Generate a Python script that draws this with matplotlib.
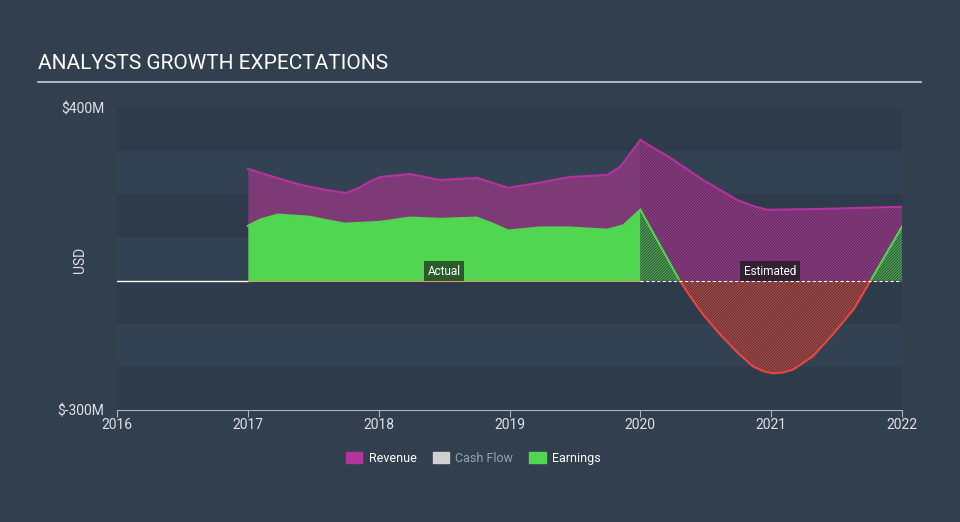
import numpy as np
import matplotlib.pyplot as plt
from matplotlib.patches import Patch

plt.rcParams['font.family'] = ['Roboto', 'DejaVu Sans']
plt.rcParams['hatch.linewidth'] = 0.7

# 実績 (Actual)
rev_year = [2017.0, 2017.2, 2017.4, 2017.6, 2017.75, 2017.85, 2017.95, 2018.01, 2018.24, 2018.47, 2018.75, 2018.99, 2019.23, 2019.46, 2019.75, 2019.85, 2020.0]
rev_val = [259, 240, 222, 210, 203, 215, 232, 240, 247, 233, 238, 215, 227, 240, 245, 265, 326]
earn_year = [2017.0, 2017.1, 2017.23, 2017.47, 2017.6, 2017.74, 2018.01, 2018.24, 2018.47, 2018.75, 2018.87, 2018.99, 2019.23, 2019.46, 2019.75, 2019.87, 2020.0]
earn_val = [127, 142, 153, 148, 140, 132, 136, 146, 143, 146, 132, 116, 123, 123, 118, 128, 164]

# 予想 (Estimated)
rev_est_year = [2020.0, 2020.23, 2020.48, 2020.74, 2020.87, 2020.97, 2021.37, 2022.0]
rev_est_val = [326, 284, 233, 187, 172, 164, 166, 171]
earn_est_year = [2020.0, 2020.30, 2020.40, 2020.48, 2020.61, 2020.74, 2020.86, 2020.94, 2021.01, 2021.09, 2021.17, 2021.32, 2021.47, 2021.63, 2021.76, 2022.0]
earn_est_val = [164, 0, -45, -79, -125, -166, -199, -210, -215, -213, -206, -175, -125, -67, 0, 125]

bg = '#323f4e'
purple_line = '#b5339f'
purple_fill = '#7e3a77'
green = '#51d651'
red = '#e8473f'

fig = plt.figure(figsize=(9.6, 5.22), dpi=100, facecolor=bg)
ax = fig.add_axes([0.1219, 0.2146, 0.8177, 0.5785])
ax.set_facecolor(bg)
ax.set_xlim(2016, 2022)
ax.set_ylim(-300, 400)

# 横縞
for i, lo in enumerate(range(-300, 400, 100)):
    c = '#2e3b4a' if i % 2 == 0 else '#334252'
    ax.axhspan(lo, lo + 100, color=c, lw=0, zorder=0)

# 実績
ax.fill_between(rev_year, 0, rev_val, color=purple_fill, lw=0, zorder=2)
ax.plot(rev_year, rev_val, color=purple_line, lw=1.5, zorder=3)
ax.fill_between(earn_year, 0, earn_val, color=green, lw=0, zorder=4)
ax.plot(earn_year, earn_val, color=green, lw=1.5, zorder=5)

# 予想
ax.fill_between(rev_est_year, 0, rev_est_val, facecolor='#4e2c50', edgecolor='#a63d98',
                hatch='////////////', lw=0, zorder=2)
ax.plot(rev_est_year, rev_est_val, color=purple_line, lw=1.5, zorder=3)
ey = np.array(earn_est_year)
ev = np.array(earn_est_val)
ax.fill_between(ey, 0, ev, where=ev >= 0, interpolate=True, facecolor='#344a3e',
                edgecolor='#4cb850', hatch='////////////', lw=0, zorder=4)
ax.fill_between(ey, 0, ev, where=ev <= 0, interpolate=True, facecolor='#48363f',
                edgecolor='#c9473f', hatch='////////////', lw=0, zorder=4)
pos = np.where(ev >= 0, ev, np.nan)
neg = np.where(ev <= 0, ev, np.nan)
ax.plot(ey, pos, color=green, lw=1.5, zorder=5)
ax.plot(ey, neg, color=red, lw=1.5, zorder=5)

# ゼロライン
ax.plot([2016, 2017], [0, 0], color='white', lw=1, zorder=6)
ax.plot([2017, 2020], [0, 0], color='#e0906a', lw=0.8, zorder=6)
ax.plot([2020, 2022], [0, 0], color='white', lw=0.8, ls=(0, (3, 2)), zorder=6)

ax.text(2018.5, 22, 'Actual', color='white', fontsize=8.5, ha='center', va='center', zorder=7,
        bbox=dict(boxstyle='square,pad=0.3', facecolor='#2b5a2b', edgecolor='none'))
ax.text(2020.99, 22, 'Estimated', color='white', fontsize=8.5, ha='center', va='center', zorder=7,
        bbox=dict(boxstyle='square,pad=0.3', facecolor='#2a1f2e', edgecolor='none', alpha=0.9))

for s in ['top', 'right', 'left']:
    ax.spines[s].set_visible(False)
ax.spines['bottom'].set_color('#aab4bf')
ax.set_xticks([2016, 2017, 2018, 2019, 2020, 2021, 2022])
ax.set_xticklabels(['2016', '2017', '2018', '2019', '2020', '2021', '2022'])
ax.tick_params(axis='x', colors='#aab4bf', labelcolor='#dde2e8', labelsize=10, length=5, pad=1)
ax.set_yticks([400, -300])
ax.set_yticklabels(['$400M', '$-300M'])
ax.tick_params(axis='y', length=0, labelcolor='#dde2e8', labelsize=10, pad=9)
ax.set_ylabel('USD', color='#dde2e8', fontsize=10)
ax.yaxis.set_label_coords(-0.038, 0.498)

fig.text(0.040, 0.868, 'ANALYSTS GROWTH EXPECTATIONS', color='white', fontsize=15, va='baseline')
fig.add_artist(plt.Line2D([0.040, 0.959], [0.843, 0.843], color='#c8ced6', lw=1.2))

handles = [Patch(color='#b5339f'), Patch(color='#d0d0d0'), Patch(color=green)]
leg = fig.legend(handles, ['Revenue', 'Cash Flow', 'Earnings'], loc='center', ncol=3,
                 bbox_to_anchor=(0.493, 0.122), frameon=False, fontsize=9,
                 handlelength=1.3, handleheight=1.0, columnspacing=1.3, handletextpad=0.5)
for t, c in zip(leg.get_texts(), ['white', '#9aa3ad', 'white']):
    t.set_color(c)

fig.savefig('out.png', dpi=100, facecolor=bg)
